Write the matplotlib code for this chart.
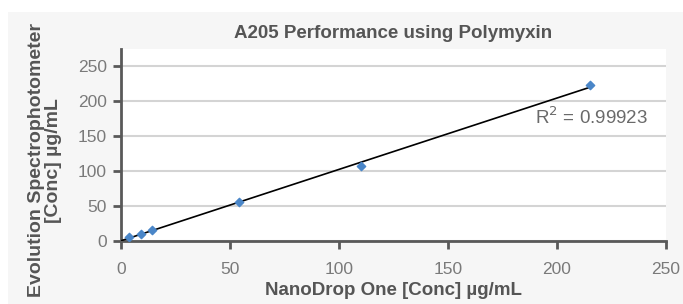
import numpy as np
import matplotlib.pyplot as plt
from matplotlib.patches import Rectangle

plt.rcParams['font.family'] = ['Liberation Sans', 'DejaVu Sans']

# NanoDrop One vs Evolution readings (ug/mL)
nanodrop = [3.5, 9, 14, 54, 110, 215]
evolution = [5, 10, 16, 55, 107, 222]
r2_text = 'R$^2$ = 0.99923'

xticks = [0, 50, 100, 150, 200, 250]
yticks = [0, 50, 100, 150, 200, 250]

fig = plt.figure(figsize=(6.83, 3.04), dpi=100)
fig.patch.set_facecolor('white')
bg = Rectangle((8/683, 0), 1, 1 - 12/304, transform=fig.transFigure,
               facecolor='#f6f6f6', edgecolor='none', zorder=-10)
fig.add_artist(bg)

ax = fig.add_axes([121/683, 63/304, 545/683, 192/304])
ax.set_facecolor('white')

# linear trendline
m, b = np.polyfit(nanodrop, evolution, 1)
xl = np.array([0, max(nanodrop)])
ax.plot(xl, m*xl + b, color='black', lw=1.2, zorder=3)
ax.scatter(nanodrop, evolution, marker='D', s=18, color='#4a86c8', zorder=4)

ax.set_xlim(0, 250)
ax.set_ylim(0, 274)
ax.set_xticks(xticks)
ax.set_yticks(yticks)
ax.yaxis.grid(True, color='#d4d4d4', lw=1.5)
ax.set_axisbelow(True)

for s in ['top', 'right']:
    ax.spines[s].set_visible(False)
for s in ['left', 'bottom']:
    ax.spines[s].set_color('#595959')
    ax.spines[s].set_linewidth(2)
ax.tick_params(colors='#595959', width=2, length=6, labelsize=12.5)
ax.tick_params(axis='x', pad=9)
ax.tick_params(axis='y', pad=4)
for lab in ax.get_xticklabels() + ax.get_yticklabels():
    lab.set_color('#7a7a7a')

ax.text(216, 177, r2_text, fontsize=13.5, color='#6a6a6a', ha='center', va='center')

ax.set_title('A205 Performance using Polymyxin', fontsize=13.5, fontweight='bold',
             color='#555555', pad=8)
ax.set_xlabel('NanoDrop One [Conc] µg/mL', fontsize=13.5, fontweight='bold', color='#555555', labelpad=4)
ax.set_ylabel('Evolution Spectrophotometer\n[Conc] µg/mL', fontsize=14, fontweight='bold',
              color='#555555', linespacing=1.0)
ax.yaxis.set_label_coords(-0.108, 0.42)

fig.savefig('out.png', dpi=100)
